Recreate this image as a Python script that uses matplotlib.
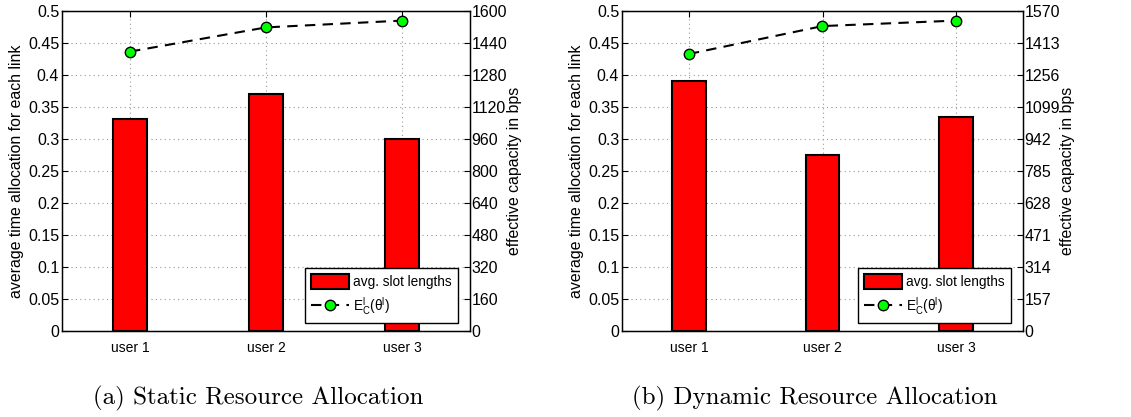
import matplotlib
matplotlib.use('Agg')
import matplotlib.pyplot as plt
import numpy as np

plt.rcParams['font.family'] = ['Liberation Sans', 'DejaVu Sans']
plt.rcParams['mathtext.fontset'] = 'custom'
plt.rcParams['mathtext.rm'] = 'Liberation Sans'
plt.rcParams['mathtext.it'] = 'Liberation Sans'

users = ['user 1', 'user 2', 'user 3']

static_slots = [0.331, 0.370, 0.300]
static_cap = [1397, 1518, 1552]
static_ticks = [0, 160, 320, 480, 640, 800, 960, 1120, 1280, 1440, 1600]

dynamic_slots = [0.390, 0.275, 0.335]
dynamic_cap = [1359, 1496, 1523]
dynamic_ticks = [0, 157, 314, 471, 628, 785, 942, 1099, 1256, 1413, 1570]

captions = ['(a) Static Resource Allocation', '(b) Dynamic Resource Allocation']

fig = plt.figure(figsize=(11.31, 4.17), dpi=100)
W, H = 1131, 417
panels = [(62, 470), (622, 1023)]
top, bottom = 11, 331


def draw(ax_box, slots, cap, rticks, caption):
    x0, x1 = ax_box
    ax = fig.add_axes([x0 / W, 1 - bottom / H, (x1 - x0) / W, (bottom - top) / H])
    pos = np.arange(1, len(users) + 1)
    bars = ax.bar(pos, slots, width=0.25, color='#ff0000', edgecolor='black',
                  linewidth=1.5, zorder=3)
    ax.set_xlim(0.5, 3.5)
    ax.set_ylim(0, 0.5)
    ax.set_yticks(np.arange(0, 0.51, 0.05))
    ax.set_yticklabels(['0', '0.05', '0.1', '0.15', '0.2', '0.25', '0.3',
                        '0.35', '0.4', '0.45', '0.5'])
    ax.set_xticks(pos)
    ax.set_xticklabels(users)
    ax.tick_params(direction='in', labelsize=11.5, top=True, length=4, pad=2)
    ax.tick_params(axis='x', labelsize=10, pad=7)
    ax.grid(True, linestyle=(0, (1, 3)), color='#999999', linewidth=0.8, zorder=0)
    ax.set_axisbelow(True)
    ax.set_ylabel('average time allocation for each link', fontsize=11.4, labelpad=3)
    for s in ax.spines.values():
        s.set_linewidth(1.0)

    ax2 = ax.twinx()
    line, = ax2.plot(pos, cap, color='black', linewidth=1.5, dashes=(5, 3.5),
                     marker='o', markersize=7.5, markerfacecolor='#00ff00',
                     markeredgecolor='black', markeredgewidth=1.0, zorder=4)
    ax2.set_ylim(0, rticks[-1])
    ax2.set_yticks(rticks)
    ax2.tick_params(direction='in', labelsize=11.5, length=4, pad=1)
    ax2.set_ylabel('effective capacity in bps', fontsize=11.4, labelpad=0)

    leg = ax2.legend([bars, line], ['avg. slot lengths', r'$\mathregular{E_C^l(\theta^l)}$'],
                     loc='lower right', bbox_to_anchor=(0.9706, 0.025),
                     fancybox=False, framealpha=1, edgecolor='black',
                     fontsize=9.8, handlelength=2.8, handleheight=1.3,
                     borderpad=0.45, labelspacing=0.45, handletextpad=0.3,
                     borderaxespad=0)
    leg.get_frame().set_linewidth(1.0)

    fig.text(((x0 + x1) / 2 - 7.5) / W, 1 - 398 / H, caption, family='cmr10',
             fontsize=18, ha='center', va='center')


draw(panels[0], static_slots, static_cap, static_ticks, captions[0])
draw(panels[1], dynamic_slots, dynamic_cap, dynamic_ticks, captions[1])

fig.savefig('out.png', dpi=100)
